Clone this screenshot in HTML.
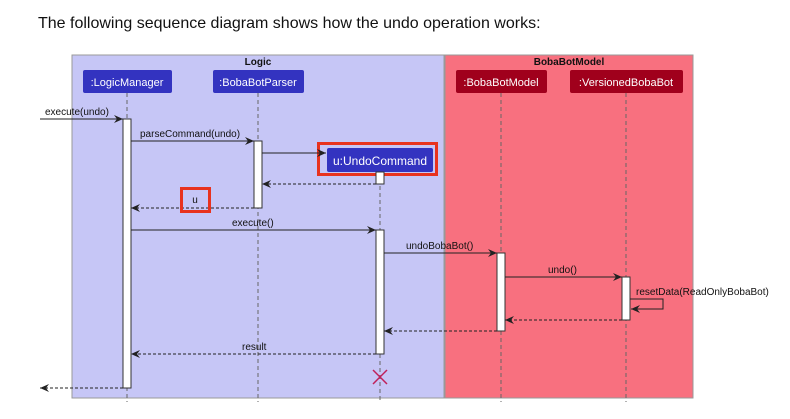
<!DOCTYPE html>
<html><head><style>
body{margin:0;background:#fff;width:790px;height:414px;overflow:hidden;font-family:"Liberation Sans",sans-serif}
</style></head><body>
<svg width="790" height="414" xmlns="http://www.w3.org/2000/svg" font-family="Liberation Sans, sans-serif">
<defs><marker id="a" markerWidth="10" markerHeight="8" refX="9" refY="4" orient="auto" markerUnits="userSpaceOnUse"><path d="M0,0 L9,4 L0,8 L3,4 Z" fill="#222"/></marker></defs>
<text x="38" y="28" font-size="16" fill="#111">The following sequence diagram shows how the undo operation works:</text>
<rect x="72" y="55" width="372" height="343" fill="#c6c6f6" stroke="#999" stroke-width="1"/>
<rect x="445" y="55" width="248" height="343" fill="#f8707f" stroke="#999" stroke-width="1"/>
<text x="258" y="65" font-size="10" font-weight="bold" text-anchor="middle" fill="#111">Logic</text>
<text x="569" y="65" font-size="10" font-weight="bold" text-anchor="middle" fill="#111">BobaBotModel</text>
<g stroke="#666" stroke-dasharray="4,3" stroke-width="1">
<line x1="127" y1="93" x2="127" y2="402"/><line x1="258" y1="93" x2="258" y2="402"/>
<line x1="380" y1="172" x2="380" y2="402"/><line x1="501" y1="93" x2="501" y2="402"/><line x1="626" y1="93" x2="626" y2="402"/>
</g>
<g font-size="11" fill="#fff" text-anchor="middle">
<rect x="83" y="70" width="89" height="23" rx="2" fill="#3333c0"/><text x="127" y="86">:LogicManager</text>
<rect x="213" y="70" width="91" height="23" rx="2" fill="#3333c0"/><text x="258" y="86">:BobaBotParser</text>
<rect x="456" y="70" width="91" height="23" rx="2" fill="#a0001c"/><text x="501" y="86">:BobaBotModel</text>
<rect x="570" y="70" width="113" height="23" rx="2" fill="#a0001c"/><text x="626" y="86">:VersionedBobaBot</text>
<rect x="327" y="148" width="106" height="24" rx="2" fill="#3333c0"/><text x="380" y="165" font-size="12">u:UndoCommand</text>
</g>
<rect x="318.5" y="143.5" width="118" height="31" fill="none" stroke="#e8321e" stroke-width="3"/>
<g fill="#fff" stroke="#333" stroke-width="1">
<rect x="123" y="119" width="8" height="269"/><rect x="254" y="141" width="8" height="67"/>
<rect x="376" y="172" width="8" height="12"/><rect x="376" y="230" width="8" height="124"/>
<rect x="497" y="253" width="8" height="78"/><rect x="622" y="277" width="8" height="43"/>
</g>
<g stroke="#222" stroke-width="1" fill="none">
<line x1="40" y1="119" x2="123" y2="119" marker-end="url(#a)"/>
<line x1="131" y1="141" x2="254" y2="141" marker-end="url(#a)"/>
<line x1="262" y1="153" x2="326" y2="153" marker-end="url(#a)"/>
<line x1="131" y1="230" x2="376" y2="230" marker-end="url(#a)"/>
<line x1="384" y1="253" x2="497" y2="253" marker-end="url(#a)"/>
<line x1="505" y1="277" x2="622" y2="277" marker-end="url(#a)"/>
<polyline points="630,299 663,299 663,309 631,309" marker-end="url(#a)"/>
<g stroke-dasharray="3,2">
<line x1="376" y1="184" x2="262" y2="184" marker-end="url(#a)"/>
<line x1="254" y1="208" x2="131" y2="208" marker-end="url(#a)"/>
<line x1="622" y1="320" x2="505" y2="320" marker-end="url(#a)"/>
<line x1="497" y1="331" x2="384" y2="331" marker-end="url(#a)"/>
<line x1="376" y1="354" x2="131" y2="354" marker-end="url(#a)"/>
<line x1="123" y1="388" x2="40" y2="388" marker-end="url(#a)"/>
</g></g>
<g font-size="10" fill="#111">
<text x="45" y="115">execute(undo)</text>
<text x="140" y="137">parseCommand(undo)</text>
<text x="195" y="203" text-anchor="middle">u</text>
<text x="232" y="226">execute()</text>
<text x="406" y="249">undoBobaBot()</text>
<text x="548" y="273">undo()</text>
<text x="636" y="295">resetData(ReadOnlyBobaBot)</text>
<text x="242" y="350">result</text>
</g>
<rect x="181.5" y="188.5" width="28" height="23" fill="none" stroke="#e8321e" stroke-width="3"/>
<g stroke="#c0205a" stroke-width="1.5"><line x1="373" y1="370" x2="387" y2="384"/><line x1="387" y1="370" x2="373" y2="384"/></g>
</svg>
</body></html>
